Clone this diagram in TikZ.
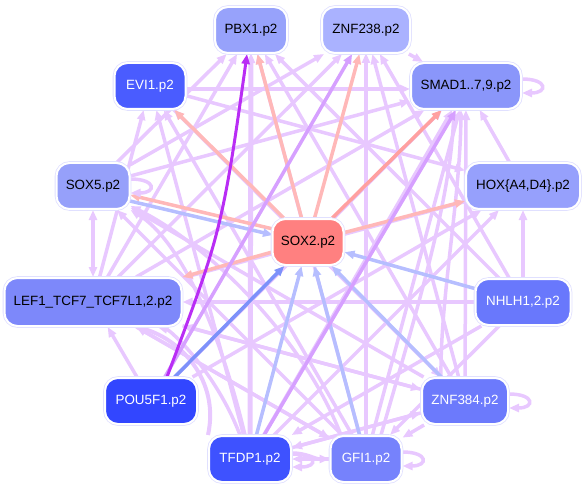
\documentclass[tikz,border=0pt]{standalone}
\usepackage{fontspec}
\setmainfont{Liberation Sans}
\usetikzlibrary{arrows.meta,calc}
\pgfdeclarelayer{bg}
\pgfsetlayers{bg,main}
\definecolor{cev}{RGB}{232,200,255}
\definecolor{csal}{RGB}{255,184,184}
\definecolor{csal2}{RGB}{255,160,160}
\definecolor{cbl}{RGB}{182,190,255}
\definecolor{cbl2}{RGB}{125,145,250}
\definecolor{cmv}{RGB}{214,160,255}
\definecolor{cpur}{RGB}{185,45,245}
\definecolor{fpbx}{RGB}{151,162,251}
\definecolor{fznf}{RGB}{170,178,255}
\definecolor{fevi}{RGB}{74,92,255}
\definecolor{fsmad}{RGB}{138,150,250}
\definecolor{fsox5}{RGB}{150,160,250}
\definecolor{fhox}{RGB}{150,160,252}
\definecolor{fsox2}{RGB}{255,128,128}
\definecolor{flef}{RGB}{125,136,250}
\definecolor{fnhlh}{RGB}{105,120,252}
\definecolor{fpou}{RGB}{50,70,255}
\definecolor{fz384}{RGB}{108,122,252}
\definecolor{ftfdp}{RGB}{62,82,255}
\definecolor{fgfi}{RGB}{118,130,252}
\begin{document}
\begin{tikzpicture}[x=1pt,y=-1pt,
  nd/.style={rounded corners=13pt, minimum height=46pt, inner sep=0pt,
    font=\fontsize{13.4}{15}\selectfont,
    preaction={draw=blue!12,line width=3.6pt}, draw=white, line width=2pt},
  edv/.style={draw=cev, line width=3.5pt, -{Triangle[length=10pt,width=8pt]}},
  edsal/.style={edv, draw=csal},
  edsal2/.style={edv, draw=csal2},
  edbl/.style={edv, draw=cbl},
  edbl2/.style={edv, draw=cbl2},
  edmv/.style={edv, draw=cmv},
  edpur/.style={edv, draw=cpur, line width=3pt},
  edthick/.style={edv, line width=5pt}]
\useasboundingbox (0,0) rectangle (586,489);
\node[nd, fill=fpbx, minimum width=72pt] (pbx1) at (251,30) {PBX1.p2};
\node[nd, fill=fznf, minimum width=88pt] (znf238) at (366,30) {ZNF238.p2};
\node[nd, fill=fevi, text=white, minimum width=71pt] (evi1) at (150,86) {EVI1.p2};
\node[nd, fill=fsmad, minimum width=110pt] (smad) at (466,86) {SMAD1..7,9.p2};
\node[nd, fill=fsox5, minimum width=73pt] (sox5) at (93,186) {SOX5.p2};
\node[nd, fill=fhox, minimum width=114pt] (hox) at (523,186) {HOX\{A4,D4\}.p2};
\node[nd, fill=fsox2, minimum width=71pt] (sox2) at (308,242) {SOX2.p2};
\node[nd, fill=flef, minimum width=177pt, minimum height=48pt] (lef1) at (93,302) {LEF1\_TCF7\_TCF7L1,2.p2};
\node[nd, fill=fnhlh, text=white, minimum width=95pt] (nhlh) at (523,302) {NHLH1,2.p2};
\node[nd, fill=fpou, text=white, minimum width=92pt] (pou5f1) at (151,401) {POU5F1.p2};
\node[nd, fill=fz384, text=white, minimum width=86pt] (znf384) at (465,401) {ZNF384.p2};
\node[nd, fill=ftfdp, text=white, minimum width=82pt] (tfdp1) at (250,459) {TFDP1.p2};
\node[nd, fill=fgfi, text=white, minimum width=71pt] (gfi1) at (366,459) {GFI1.p2};
\coordinate (sox5a) at (130,195);
\coordinate (sox5b) at (130,201);
\coordinate (sox2a) at (273,229);
\coordinate (sox2b) at (273,235);
\begin{pgfonlayer}{bg}
% light violet edges
\foreach \a/\b in {sox5/pbx1, sox5/znf238, sox5/smad, lef1/pbx1, lef1/znf238, lef1/smad,
  lef1/evi1, lef1/znf384, lef1/gfi1, evi1/znf384, evi1/hox, znf384/pbx1, nhlh/pbx1,
  gfi1/pbx1, znf384/znf238, nhlh/znf238, pou5f1/smad, gfi1/smad, znf384/smad,
  hox/smad, tfdp1/hox, pou5f1/hox, tfdp1/evi1, gfi1/evi1, znf384/sox5, gfi1/sox5,
  znf384/lef1, gfi1/lef1, hox/lef1, pou5f1/lef1, nhlh/tfdp1, nhlh/gfi1, znf384/tfdp1,
  znf384/gfi1, tfdp1/znf384, nhlh/hox, znf384/evi1, tfdp1/smad, gfi1/tfdp1}
  \draw[edv] (\a) -- (\b);
\draw[edv] (evi1.east |- 0,89) -- (smad.west |- 0,89);
\draw[edv] (nhlh.west |- 0,302) -- (lef1.east |- 0,302);
\draw[edv] (znf238) -- (smad);
\draw[edthick] (tfdp1.north |- 0,436) -- (pbx1.south |- 0,53);
\draw[edv] (gfi1.north |- 0,436) -- (znf238.south |- 0,53);
\draw[edv, {Triangle[length=10pt,width=8pt]}-{Triangle[length=10pt,width=8pt]}] (sox5.south) -- (lef1.north -| sox5.south);
% curves
\draw[edv, line width=4pt] (tfdp1.north west) .. controls (220,380) and (180,340) .. ([xshift=-45pt]lef1.south east);
\draw[edv] ([xshift=-10pt]tfdp1.north) .. controls (215,370) and (170,330) .. ([xshift=-25pt]lef1.south east);
\draw[edv] ([xshift=-5pt]tfdp1.north) .. controls (220,330) and (180,240) .. (sox5.south east);
\draw[edv] ([xshift=-25pt]gfi1.north) .. controls (300,330) and (200,240) .. ([yshift=4pt]sox5.south east);
\draw[edv] ([xshift=20pt]znf384.north west) .. controls (440,300) and (460,200) .. ([xshift=-5pt]smad.south);
\draw[edv] ([xshift=15pt]gfi1.north) .. controls (420,300) and (450,200) .. ([xshift=-12pt]smad.south);
% salmon from SOX2
\foreach \b in {pbx1, znf238, hox, evi1, lef1}
  \draw[edsal] (sox2) -- (\b);
\draw[edsal] (sox2a) -- (sox5a);
\draw[edsal2] (sox2) -- (smad);
% blue into SOX2
\foreach \a in {tfdp1, gfi1, znf384, nhlh}
  \draw[edbl] (\a) -- (sox2);
\draw[edbl] (sox5b) -- (sox2b);
\draw[edbl2] (pou5f1) -- (sox2);
% medium violet
\draw[edmv] (pou5f1) -- (znf238);
\draw[edmv] (tfdp1) -- ([xshift=-10pt]smad.south);
% purple
\draw[edpur] ([xshift=16pt]pou5f1.north) .. controls (218,240) and (222,235) .. ([xshift=-4pt]pbx1.south);
% TFDP1 -> GFI1
\draw[edv] ([yshift=6pt]tfdp1.east) to[out=0,in=180] ([yshift=0pt]gfi1.west);
% self loops
\draw[edv] ([yshift=7pt]smad.east) to[out=0,in=0,distance=26pt] ([yshift=-7pt]smad.east);
\draw[edv] ([yshift=7pt]sox5.east) to[out=0,in=0,distance=26pt] ([yshift=-7pt]sox5.east);
\draw[edv] ([yshift=7pt]znf384.east) to[out=0,in=0,distance=26pt] ([yshift=-7pt]znf384.east);
\draw[edv] ([yshift=5pt]tfdp1.east) to[out=0,in=0,distance=26pt] ([yshift=-8pt]tfdp1.east);
\draw[edv] ([yshift=7pt]gfi1.east) to[out=0,in=0,distance=26pt] ([yshift=-7pt]gfi1.east);
\end{pgfonlayer}
\end{tikzpicture}
\end{document}
